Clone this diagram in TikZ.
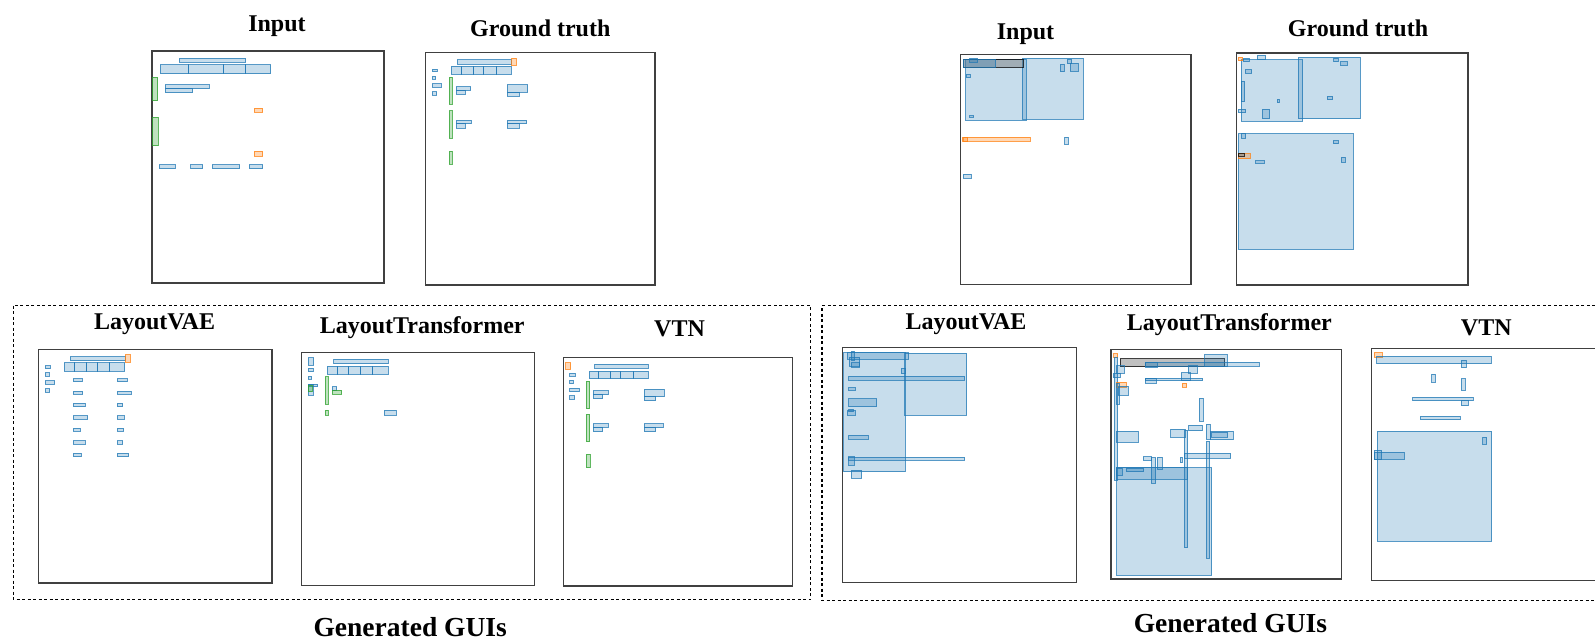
\documentclass[tikz,border=0pt]{standalone}
\usepackage{fontspec}
\setmainfont{Liberation Serif}
\definecolor{tabblue}{RGB}{31,119,180}
\definecolor{taborange}{RGB}{255,127,14}
\definecolor{tabgreen}{RGB}{44,160,44}
\begin{document}
\begin{tikzpicture}[x=1pt,y=-1pt,
  bb/.style={draw=tabblue,fill=tabblue,fill opacity=0.25,draw opacity=0.75,line width=0.9pt},
  ob/.style={draw=taborange,fill=taborange,fill opacity=0.3,draw opacity=0.75,line width=0.9pt},
  gb/.style={draw=tabgreen,fill=tabgreen,fill opacity=0.3,draw opacity=0.75,line width=0.9pt},
  kb/.style={draw=black,fill=black!55,fill opacity=0.45,draw opacity=0.75,line width=0.9pt},
  frm/.style={draw=black!75,line width=1.3pt},
  dbox/.style={draw=black,line width=1.1pt,dash pattern=on 3pt off 2.5pt},
  ttl/.style={font=\bfseries\fontsize{24}{28}\selectfont,inner sep=0pt,anchor=base},
  gttl/.style={font=\bfseries\fontsize{27.5}{32}\selectfont,inner sep=0pt,anchor=base}]
\useasboundingbox (0,0) rectangle (1595,639);
% titles
\node[ttl] (tInL) at (277,31.7) {Input};
\node[ttl] (tGtL) at (540.3,36.7) {Ground truth};
\node[ttl] (tInR) at (1025.5,40) {Input};
\node[ttl] (tGtR) at (1358,36.5) {Ground truth};
\node[ttl] (tVaeL) at (154.6,329.5) {LayoutVAE};
\node[ttl] (tLtL) at (422.2,333.2) {LayoutTransformer};
\node[ttl] (tVtnL) at (679.5,336.7) {VTN};
\node[ttl] (tVaeR) at (966,329) {LayoutVAE};
\node[ttl] (tLtR) at (1229.4,330) {LayoutTransformer};
\node[ttl] (tVtnR) at (1486.3,335) {VTN};
\node[gttl] (gL) at (410.2,636) {Generated GUIs};
\node[gttl] (gR) at (1230.4,632) {Generated GUIs};
% dashed groups
\draw[dbox] (13.2,305.7) rectangle (810.8,599.3);
\draw[dbox] (1595,305.7) -- (822,305.7) -- (822,600.7) -- (1595,600.7);
% frames
\draw[frm] (152,51) rectangle (384,283);
\draw[frm] (425.7,52.7) rectangle (655,285);
\draw[frm] (38.3,349.3) rectangle (272,583);
\draw[frm] (301.7,352.3) rectangle (534.3,585.7);
\draw[frm] (563.3,357.3) rectangle (792.3,586);
\draw[frm] (960.7,54.3) rectangle (1191,284.3);
\draw[frm] (1236.7,53) rectangle (1468,285);
\draw[frm] (842.3,347.7) rectangle (1076.3,582.3);
\draw[frm] (1111,349.7) rectangle (1341.3,579);
\draw[frm] (1595,348.3) -- (1371.7,348.3) -- (1371.7,580.7) -- (1595,580.7);
% ---- left Input
\draw[bb] (179,58) rectangle (245.7,62);
\draw[bb] (160.3,64.7) rectangle (188.3,73.7);
\draw[bb] (188.3,64.7) rectangle (223.7,73.7);
\draw[bb] (223.7,64.7) rectangle (245.3,73.7);
\draw[bb] (245.3,64.7) rectangle (270.7,73.7);
\draw[gb] (152.3,77) rectangle (157.7,100.7);
\draw[bb] (165.3,84.7) rectangle (209,88.7);
\draw[bb] (165.3,88.7) rectangle (192.7,92.7);
\draw[ob] (254.3,108) rectangle (262.7,112.3);
\draw[gb] (152.3,117) rectangle (158.3,145.7);
\draw[ob] (254.3,151.3) rectangle (262.7,156);
\draw[bb] (159.3,164.7) rectangle (175.3,168.7);
\draw[bb] (190.7,164.7) rectangle (202.7,168.7);
\draw[bb] (212.3,164.7) rectangle (239.7,168.7);
\draw[bb] (249,164.7) rectangle (262.7,168.7);
% ---- left Ground truth
\draw[bb] (457,59.7) rectangle (511.7,64);
\draw[ob] (511.7,58.3) rectangle (516.3,65);
\draw[bb] (451,66.3) rectangle (461,74.3);
\draw[bb] (461,66.3) rectangle (473.3,74.3);
\draw[bb] (473.3,66.3) rectangle (483.7,74.3);
\draw[bb] (483.7,66.3) rectangle (496.3,74.3);
\draw[bb] (496.3,66.3) rectangle (511.3,74.3);
\draw[bb] (432,69) rectangle (437.3,71.7);
\draw[bb] (432,76) rectangle (435.7,79.3);
\draw[bb] (432,83.7) rectangle (441.3,87);
\draw[bb] (432,91.7) rectangle (436.7,95);
\draw[gb] (449,77) rectangle (452,104.3);
\draw[bb] (456,86.7) rectangle (470.7,90.3);
\draw[bb] (456,90.3) rectangle (465.3,94.3);
\draw[bb] (507.3,84.7) rectangle (527.7,92.3);
\draw[bb] (507.3,92.3) rectangle (519,96.3);
\draw[gb] (449,110.7) rectangle (452,138.3);
\draw[bb] (456,120) rectangle (471,123.7);
\draw[bb] (456,123.7) rectangle (465.3,128);
\draw[bb] (507.3,120) rectangle (526.7,123.7);
\draw[bb] (507.3,123.7) rectangle (519,128);
\draw[gb] (449,151) rectangle (452.3,164.3);
% ---- left LayoutVAE
\draw[bb] (70.3,356.7) rectangle (125.3,360.7);
\draw[ob] (125.3,354.7) rectangle (130.3,362);
\draw[bb] (64.3,362.7) rectangle (74.3,371.3);
\draw[bb] (74.3,362.7) rectangle (86.7,371.3);
\draw[bb] (86.7,362.7) rectangle (97.3,371.3);
\draw[bb] (97.3,362.7) rectangle (109.7,371.3);
\draw[bb] (109.7,362.7) rectangle (124.7,371.3);
\draw[bb] (45,365.7) rectangle (50.3,368.7);
\draw[bb] (45,372.7) rectangle (49,376);
\draw[bb] (45,380.7) rectangle (54.7,384);
\draw[bb] (45,388.7) rectangle (49.7,392);
\draw[bb] (73,378.7) rectangle (82.3,381.7);
\draw[bb] (73,391) rectangle (82.7,394.3);
\draw[bb] (73,403.3) rectangle (85.3,406.7);
\draw[bb] (73,415.7) rectangle (87.7,419);
\draw[bb] (73,428) rectangle (80,431.3);
\draw[bb] (73,440.7) rectangle (85.3,444);
\draw[bb] (73,453.3) rectangle (81,456.7);
\draw[bb] (117,378.7) rectangle (127,381.7);
\draw[bb] (117,391) rectangle (131.3,394.3);
\draw[bb] (117,403.3) rectangle (122.7,406.7);
\draw[bb] (117,415.7) rectangle (124.3,419);
\draw[bb] (117,428) rectangle (123.7,431.3);
\draw[bb] (117,440.7) rectangle (122.7,444);
\draw[bb] (117,453.3) rectangle (128.7,456.7);
% ---- left LayoutTransformer
\draw[bb] (308.3,357.7) rectangle (313.7,365);
\draw[bb] (308.3,368.3) rectangle (313.3,371.7);
\draw[bb] (308.3,376) rectangle (311.7,379.3);
\draw[bb] (308.3,384) rectangle (317.7,386.7);
\draw[bb] (308.3,384) rectangle (313,395);
\draw[gb] (308.3,385) rectangle (312.3,391.7);
\draw[bb] (333.7,359.3) rectangle (388,363.7);
\draw[bb] (327.3,366) rectangle (337.3,374.3);
\draw[bb] (337.3,366) rectangle (348.3,374.3);
\draw[bb] (348.3,366) rectangle (360,374.3);
\draw[bb] (360,366) rectangle (372.3,374.3);
\draw[bb] (372.3,366) rectangle (388,374.3);
\draw[gb] (325,376.7) rectangle (328,404.3);
\draw[bb] (332,386.7) rectangle (336.7,390.3);
\draw[gb] (332,390.3) rectangle (341.7,394.3);
\draw[gb] (325,410.3) rectangle (328,415);
\draw[bb] (384,410.3) rectangle (396,415);
% ---- left VTN
\draw[ob] (565.7,362.7) rectangle (570.7,369.3);
\draw[bb] (594.7,364.3) rectangle (648,368.3);
\draw[bb] (589,371) rectangle (598.7,378.7);
\draw[bb] (598.7,371) rectangle (610.3,378.7);
\draw[bb] (610.3,371) rectangle (620.7,378.7);
\draw[bb] (620.7,371) rectangle (633,378.7);
\draw[bb] (633,371) rectangle (648,378.7);
\draw[bb] (569.7,373) rectangle (575,376.3);
\draw[bb] (569.7,380.3) rectangle (573.3,383.7);
\draw[bb] (569.7,388) rectangle (579,391.7);
\draw[bb] (569.7,395.7) rectangle (574.7,399.3);
\draw[gb] (586,381) rectangle (589.7,408.7);
\draw[bb] (593.3,390.7) rectangle (608.3,394.7);
\draw[bb] (593.3,394.7) rectangle (602.7,398.7);
\draw[bb] (644.3,389) rectangle (664,396.7);
\draw[bb] (644.3,396.7) rectangle (655.7,400.7);
\draw[gb] (586,414.3) rectangle (589.7,441.7);
\draw[bb] (593.3,423.7) rectangle (608.3,427.3);
\draw[bb] (593.3,427.3) rectangle (602.7,431.7);
\draw[bb] (644.3,423.7) rectangle (663.3,427.7);
\draw[bb] (644.3,427.7) rectangle (655.7,431.7);
\draw[gb] (586,454) rectangle (590,467.7);
% ---- right Input
\draw[bb] (965.7,59) rectangle (1026.3,120);
\draw[bb] (1022.3,58.3) rectangle (1083.3,119.3);
\draw[kb] (963,59) rectangle (1023,67.3);
\draw[bb] (963,59) rectangle (995.7,67.3);
\draw[bb] (969.7,58.3) rectangle (977.7,62.3);
\draw[bb] (966,74.3) rectangle (970,77.7);
\draw[bb] (969.7,115.7) rectangle (973.7,117.3);
\draw[bb] (1060.3,64) rectangle (1064.3,71.7);
\draw[bb] (1067,59.3) rectangle (1071.7,63.7);
\draw[bb] (1070.3,63.3) rectangle (1078.3,71.3);
\draw[ob] (962.3,137.3) rectangle (1030.3,141.3);
\draw[ob] (963.7,137.3) rectangle (967.7,141.3);
\draw[bb] (1064.7,137) rectangle (1068.3,144);
\draw[bb] (963,174.3) rectangle (971.3,178.3);
% ---- right Ground truth
\draw[bb] (1241.3,59.7) rectangle (1302.7,121);
\draw[bb] (1298.3,57.3) rectangle (1360,118.7);
\draw[bb] (1238,133.7) rectangle (1353.3,249);
\draw[ob] (1238,57.3) rectangle (1242.7,60.7);
\draw[bb] (1243.3,58.3) rectangle (1249.3,61.7);
\draw[bb] (1257.3,55) rectangle (1265.7,59);
\draw[bb] (1245.3,69.7) rectangle (1251.7,73);
\draw[bb] (1241.3,81) rectangle (1244.7,101.7);
\draw[bb] (1238,109.3) rectangle (1245.7,112.7);
\draw[bb] (1262.3,109.3) rectangle (1269.7,118.7);
\draw[bb] (1277.3,99.3) rectangle (1279,102.7);
\draw[bb] (1333.7,58) rectangle (1338,61.7);
\draw[bb] (1340.7,61.7) rectangle (1347.3,65);
\draw[bb] (1327,96) rectangle (1332.7,99.7);
\draw[bb] (1241,133.7) rectangle (1245.7,138.3);
\draw[bb] (1333.3,140.7) rectangle (1338,143.7);
\draw[bb] (1341,157.3) rectangle (1345.3,162);
\draw[ob] (1238,153.7) rectangle (1250,158.7);
\draw[kb] (1238,153.7) rectangle (1244,156);
\draw[bb] (1255.7,160.7) rectangle (1264,163.3);
% ---- right LayoutVAE
\draw[bb] (843.7,352.7) rectangle (905.3,471.7);
\draw[bb] (904.7,353.3) rectangle (966.7,415.3);
\draw[bb] (847,352.7) rectangle (908.7,359);
\draw[bb] (851,351.3) rectangle (854.3,360);
\draw[bb] (849,357.3) rectangle (859.7,366);
\draw[bb] (851,362.7) rectangle (859.7,367.3);
\draw[bb] (901,368.3) rectangle (905,373.7);
\draw[bb] (848.7,376.3) rectangle (964.7,380);
\draw[bb] (848.7,387.7) rectangle (855,390.3);
\draw[bb] (848.7,398.7) rectangle (876.7,406.7);
\draw[bb] (847,410.7) rectangle (855.3,415);
\draw[bb] (848.7,409.3) rectangle (853,411.7);
\draw[bb] (848.7,435) rectangle (868.3,439);
\draw[bb] (848.7,457) rectangle (964.7,460.3);
\draw[bb] (848.7,456.7) rectangle (854.3,465.3);
\draw[bb] (851,470) rectangle (861.7,478.3);
% ---- right LayoutTransformer
\draw[ob] (1113.7,353.7) rectangle (1117.7,357.7);
\draw[kb] (1120,358.7) rectangle (1224,366.7);
\draw[bb] (1145,362.3) rectangle (1259,366.3);
\draw[bb] (1145,362.3) rectangle (1157.3,367.3);
\draw[bb] (1204.7,354.7) rectangle (1227,366.7);
\draw[bb] (1114,357.7) rectangle (1117.7,480);
\draw[bb] (1116,365.7) rectangle (1124.3,373.3);
\draw[bb] (1113,373.3) rectangle (1120.3,377.7);
\draw[bb] (1188.3,365.7) rectangle (1197,373.3);
\draw[bb] (1181,372.7) rectangle (1190.3,380.3);
\draw[bb] (1145,378) rectangle (1202.7,380.7);
\draw[bb] (1145,378) rectangle (1156.3,383);
\draw[ob] (1116,382.3) rectangle (1126,387);
\draw[ob] (1182.3,383.3) rectangle (1186.7,387.3);
\draw[bb] (1118.3,386.3) rectangle (1128.3,395);
\draw[bb] (1116,383) rectangle (1119.7,404.3);
\draw[bb] (1199,398.3) rectangle (1203,421);
\draw[bb] (1170.7,429) rectangle (1185.3,437.3);
\draw[bb] (1188.7,425) rectangle (1202,430.7);
\draw[bb] (1206,424) rectangle (1210.3,439.3);
\draw[bb] (1210.3,431) rectangle (1233,439.7);
\draw[bb] (1211,432.3) rectangle (1227.7,437);
\draw[bb] (1116,431.3) rectangle (1138,442);
\draw[bb] (1184.3,430) rectangle (1187.7,547.7);
\draw[bb] (1206,441) rectangle (1209.7,558.3);
\draw[bb] (1184.3,453) rectangle (1230.7,458.3);
\draw[bb] (1143.3,456.7) rectangle (1151.7,460.3);
\draw[bb] (1151.3,457.7) rectangle (1155.7,483.3);
\draw[bb] (1157.3,457.3) rectangle (1162,469.3);
\draw[bb] (1180.3,457) rectangle (1182,462.7);
\draw[bb] (1116.7,467.7) rectangle (1211.7,575);
\draw[bb] (1116.7,467.7) rectangle (1187,479.3);
\draw[bb] (1126,468) rectangle (1143.7,471.7);
\draw[bb] (1116,468.3) rectangle (1122.3,475);
% ---- right VTN
\draw[ob] (1374.3,352.7) rectangle (1382.3,357.3);
\draw[bb] (1376.7,356.3) rectangle (1491,363.7);
\draw[bb] (1461.3,360) rectangle (1466,367.7);
\draw[bb] (1431.7,374.3) rectangle (1435,382);
\draw[bb] (1461.3,378.7) rectangle (1465,390);
\draw[bb] (1412.7,397.3) rectangle (1473,400.7);
\draw[bb] (1461.3,400.7) rectangle (1468.3,405.7);
\draw[bb] (1420.3,416) rectangle (1460,419.7);
\draw[bb] (1377.3,431) rectangle (1491.7,541.3);
\draw[bb] (1482.7,437) rectangle (1486.7,444.3);
\draw[bb] (1374,452.3) rectangle (1404.3,459.3);
\draw[bb] (1374,450) rectangle (1381.7,459.3);
\end{tikzpicture}
\end{document}
